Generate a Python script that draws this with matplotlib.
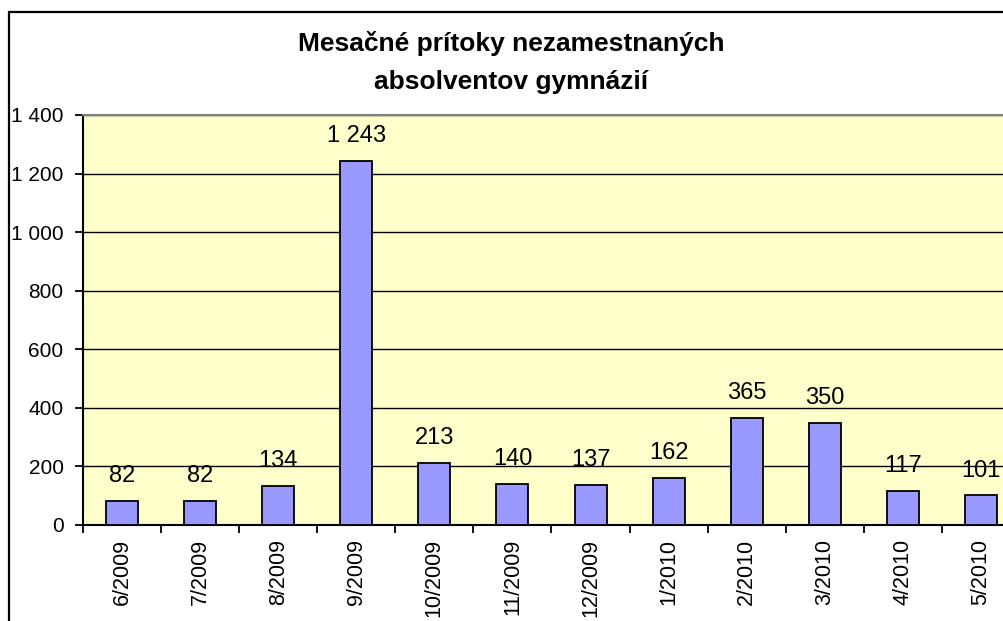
import matplotlib.pyplot as plt
from matplotlib.patches import Rectangle

months = ['6/2009', '7/2009', '8/2009', '9/2009', '10/2009', '11/2009',
          '12/2009', '1/2010', '2/2010', '3/2010', '4/2010', '5/2010']
inflows = [82, 82, 134, 1243, 213, 140, 137, 162, 365, 350, 117, 101]
yticks = [0, 200, 400, 600, 800, 1000, 1200, 1400]

plt.rcParams['font.family'] = ['Liberation Sans', 'DejaVu Sans']


def fmt(v):
    # thousands separated by a space, like the Slovak Excel output
    return f'{v:,}'.replace(',', ' ')


fig = plt.figure(figsize=(10.04, 6.21), dpi=100)
ax = fig.add_axes([83 / 1004, 96 / 621, 937 / 1004, 410 / 621])
ax.set_facecolor('#FFFFCC')

x = list(range(len(months)))
ax.bar(x, inflows, width=0.41, color='#9999FF', edgecolor='black', linewidth=1.3, zorder=3)

for xi, v in zip(x, inflows):
    ax.annotate(fmt(v), (xi, v), xytext=(0, 13.5), textcoords='offset points',
                ha='center', va='baseline', fontsize=17, zorder=4)

ax.set_xlim(-0.5, len(months) - 0.5)
ax.set_ylim(0, 1400)
ax.set_yticks(yticks)
ax.set_yticklabels([fmt(t) for t in yticks])
ax.yaxis.grid(True, color='black', linewidth=1.0, zorder=1)
ax.set_axisbelow(True)

# Excel style: month labels centered under bars, ticks between categories
ax.set_xticks(x)
ax.set_xticklabels(months, rotation=90)
ax.tick_params(axis='x', length=0, pad=10, labelsize=15.5)
ax.set_xticks([i - 0.5 for i in range(len(months) + 1)], minor=True)
ax.tick_params(axis='x', which='minor', length=6, width=1.3, direction='out')
ax.tick_params(axis='y', length=6, width=1.3, direction='out', pad=8, labelsize=15)

for side in ['left', 'bottom']:
    ax.spines[side].set_linewidth(1.5)
    ax.spines[side].set_color('black')
ax.spines['top'].set_color('#808080')
ax.spines['top'].set_linewidth(1.5)
ax.spines['right'].set_visible(False)

fig.text(511 / 1004, 1 - 51 / 621, 'Mesačné prítoky nezamestnaných',
         ha='center', va='baseline', fontsize=19, fontweight='bold')
fig.text(511 / 1004, 1 - 89 / 621, 'absolventov gymnázií',
         ha='center', va='baseline', fontsize=19, fontweight='bold')

# chart frame, cut off at the right and bottom like the original
fig.patches.append(Rectangle((9 / 1004, -0.2), 1.2, (621 - 12) / 621 + 0.2,
                             transform=fig.transFigure, fill=False,
                             edgecolor='black', linewidth=1.6, clip_on=False))

fig.savefig('out.png', dpi=100)
